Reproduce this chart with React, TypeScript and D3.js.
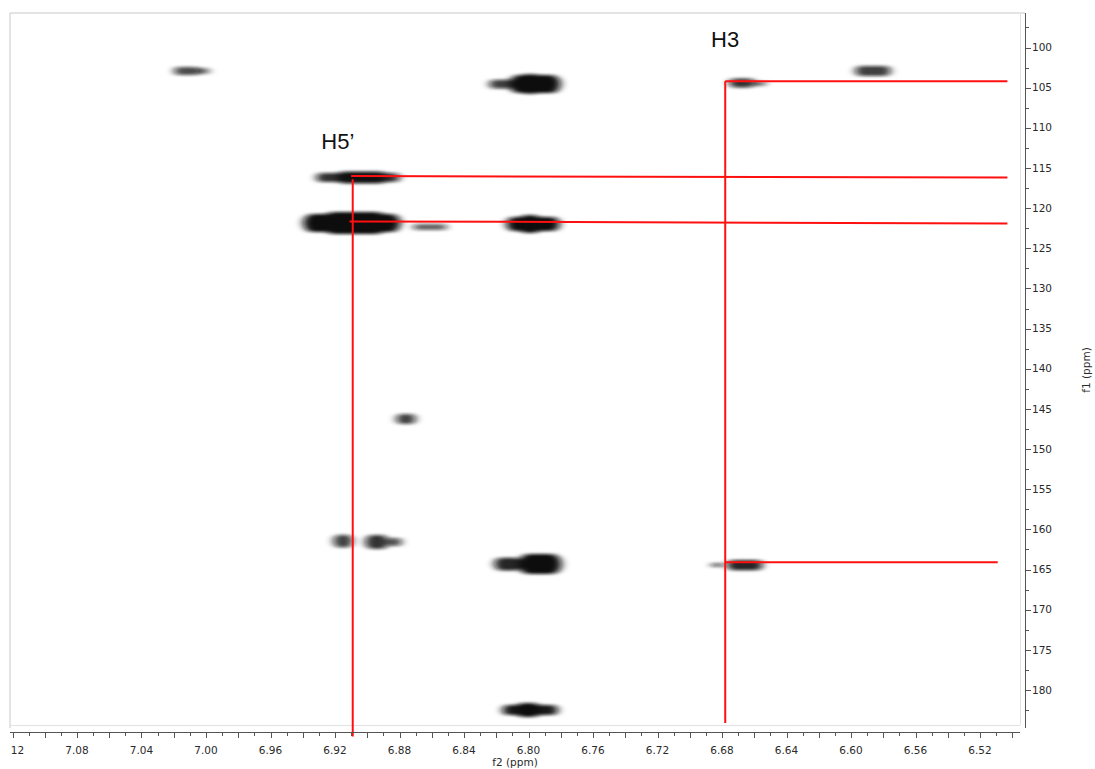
import React from 'react';
import * as d3 from 'd3';

// f2 (ppm) axis tick labels and f1 (ppm) axis tick labels
const F2_LABELS = [7.12, 7.08, 7.04, 7.0, 6.96, 6.92, 6.88, 6.84, 6.8, 6.76, 6.72, 6.68, 6.64, 6.6, 6.56, 6.52];
const F2_MINOR = d3.range(0, 63).map((i) => +(7.12 - i * 0.01).toFixed(2));
const F1_LABELS = [100, 105, 110, 115, 120, 125, 130, 135, 140, 145, 150, 155, 160, 165, 170, 175, 180];
const F1_MINOR = d3.range(0, 35).map((i) => 97.5 + i * 2.5);

// cross peaks: f2 centre, f1 centre, f2 width, f1 height (ppm), intensity
const peakF2 = [7.0118, 7.0019, 6.8165, 6.796, 6.799, 6.6676, 6.6564, 6.5864, 6.9057, 6.9033, 6.9095, 6.9076, 6.8611, 6.7972, 6.7991, 6.876, 6.915, 6.894, 6.8828, 6.8127, 6.7929, 6.6831, 6.6658, 6.799, 6.8003];
const peakF1 = [102.93, 102.93, 104.55, 104.55, 104.55, 104.42, 104.5, 102.93, 116.19, 116.19, 121.86, 121.86, 122.35, 121.98, 121.98, 146.26, 161.46, 161.58, 161.58, 164.32, 164.32, 164.45, 164.45, 182.5, 182.5];
const peakW = [0.0186, 0.011, 0.0185, 0.0347, 0.0186, 0.0186, 0.01, 0.0248, 0.0546, 0.034, 0.0633, 0.0434, 0.0236, 0.036, 0.0186, 0.0149, 0.0149, 0.0174, 0.011, 0.0198, 0.0298, 0.01, 0.0248, 0.0372, 0.0186];
const peakH = [1.0, 0.75, 1.1, 2.24, 2.5, 1.1, 0.6, 1.25, 1.1, 1.5, 2.25, 2.75, 0.75, 1.75, 2.25, 1.25, 1.6, 1.75, 1.0, 1.6, 2.5, 0.5, 1.25, 1.25, 1.75];
const peakA = [0.75, 0.55, 0.8, 1, 1, 0.85, 0.6, 0.8, 0.85, 0.9, 1, 1, 0.65, 1, 1, 0.8, 0.8, 0.85, 0.75, 0.9, 1, 0.7, 0.9, 0.95, 1];

// assignment guide lines: [f2a, f1a, f2b, f1b]
const guideLines = [
  [6.909, 116.4, 6.909, 185.8],
  [6.91, 116.0, 6.503, 116.2],
  [6.911, 121.65, 6.503, 121.9],
  [6.678, 104.2, 6.678, 184.1],
  [6.678, 104.2, 6.503, 104.2],
  [6.678, 164.1, 6.509, 164.1],
];
const labels = [
  { text: 'H5\u2019', f2: 6.9285, f1: 112.6 },
  { text: 'H3', f2: 6.6868, f1: 99.95 },
];

const W = 1095;
const H = 769;
const LEFT = 10;
const TOP = 13;
const RIGHT = 1020;
const BOTTOM = 725;
const YAXIS_X = 1025;
const XAXIS_Y = 732;

export default function App() {
  const x = d3.scaleLinear().domain([7.12, 6.52]).range([12.5, 980]);
  const y = d3.scaleLinear().domain([100, 180]).range([47.5, 690]);
  const font = 'DejaVu Sans, Verdana, sans-serif';

  return (
    <svg width={W} height={H} style={{ position: 'absolute', left: 0, top: 0, background: '#fff' }}>
      <defs>
        <filter id="blur" x="-50%" y="-150%" width="200%" height="400%">
          <feGaussianBlur stdDeviation="4.5 1.5" />
        </filter>
        <clipPath id="plotClip">
          <rect x={LEFT} y={TOP} width={RIGHT - LEFT} height={BOTTOM - TOP} />
        </clipPath>
        <clipPath id="xLabClip">
          <rect x={LEFT} y={XAXIS_Y} width={W - LEFT} height={H - XAXIS_Y} />
        </clipPath>
      </defs>
      <rect x={0} y={0} width={W} height={H} fill="#fff" />

      {/* frame */}
      <line x1={LEFT} x2={YAXIS_X} y1={TOP} y2={TOP} stroke="#c8c8c8" />
      <line x1={LEFT} x2={LEFT} y1={TOP} y2={BOTTOM + 3} stroke="#c8c8c8" />
      <line x1={LEFT} x2={RIGHT} y1={BOTTOM + 0.5} y2={BOTTOM + 0.5} stroke="#e2e2e2" />
      <line x1={RIGHT + 0.5} x2={RIGHT + 0.5} y1={TOP} y2={BOTTOM} stroke="#e2e2e2" />

      {/* peaks */}
      <g clipPath="url(#plotClip)">
        <g filter="url(#blur)">
          {peakF2.map((f2, i) => {
            const cx = x(f2);
            const cy = y(peakF1[i]);
            const w = Math.max(4, Math.abs(x(f2 + peakW[i] / 2) - x(f2 - peakW[i] / 2)) - 5);
            const h = y(peakF1[i] + peakH[i] / 2) - y(peakF1[i] - peakH[i] / 2);
            return (
              <rect
                key={i}
                x={cx - w / 2}
                y={cy - h / 2}
                width={w}
                height={h}
                rx={Math.min(h / 2, w / 2)}
                ry={h / 2}
                fill="#0a0a0a"
                fillOpacity={peakA[i]}
              />
            );
          })}
        </g>
      </g>

      {/* guide lines */}
      {guideLines.map((l, i) => (
        <line key={i} x1={x(l[0])} y1={y(l[1])} x2={x(l[2])} y2={y(l[3])} stroke="#ff1010" strokeWidth={2} />
      ))}
      {labels.map((l, i) => (
        <text key={i} x={x(l.f2)} y={y(l.f1)} fontFamily="Liberation Sans, Arial, sans-serif" fontSize={22} fill="#111">
          {l.text}
        </text>
      ))}

      {/* x axis */}
      <line x1={LEFT} x2={RIGHT} y1={XAXIS_Y + 0.5} y2={XAXIS_Y + 0.5} stroke="#555" />
      {F2_MINOR.map((v, i) => {
        const px = Math.round(x(v)) + 0.5;
        const major = Math.round(v * 100) % 2 === 0;
        return <line key={i} x1={px} x2={px} y1={XAXIS_Y} y2={XAXIS_Y + (major ? 6 : 4)} stroke="#555" />;
      })}
      <g clipPath="url(#xLabClip)">
        {F2_LABELS.map((v, i) => (
          <text key={i} x={x(v)} y={754} textAnchor="middle" fontFamily={font} fontSize={10.5} fill="#2a2a2a">
            {v.toFixed(2)}
          </text>
        ))}
      </g>
      <text x={515} y={766} textAnchor="middle" fontFamily={font} fontSize={10.5} fill="#2a2a2a">
        f2 (ppm)
      </text>

      {/* y axis */}
      <line x1={YAXIS_X + 0.5} x2={YAXIS_X + 0.5} y1={TOP} y2={BOTTOM + 3} stroke="#555" />
      {F1_MINOR.map((v, i) => {
        const py = Math.round(y(v)) + 0.5;
        const major = v % 5 === 0;
        return <line key={i} x1={YAXIS_X} x2={YAXIS_X + (major ? 6 : 4)} y1={py} y2={py} stroke="#555" />;
      })}
      {F1_LABELS.map((v, i) => (
        <text key={i} x={YAXIS_X + 7} y={y(v)} dy="0.35em" fontFamily={font} fontSize={10.5} fill="#2a2a2a">
          {v}
        </text>
      ))}
      <text
        transform={`translate(1090, 370) rotate(-90)`}
        textAnchor="middle"
        fontFamily={font}
        fontSize={10.5}
        fill="#2a2a2a"
      >
        f1 (ppm)
      </text>
    </svg>
  );
}
